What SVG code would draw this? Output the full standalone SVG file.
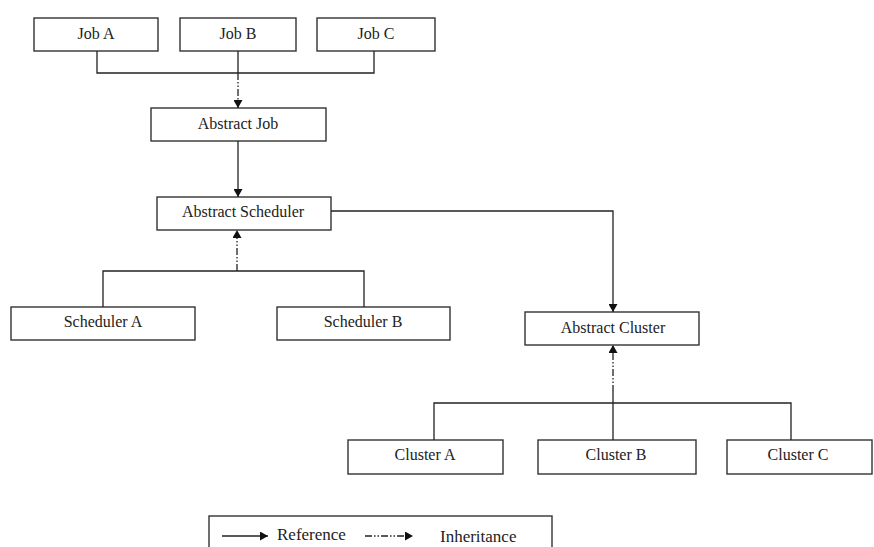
<svg xmlns="http://www.w3.org/2000/svg" width="874" height="547" viewBox="0 0 874 547">
  <style>
    .box { fill: #fff; stroke: #333; stroke-width: 1.4; }
    .lbl { font-family: "Liberation Serif", "Times New Roman", serif; font-size: 16px; fill: #222; text-anchor: middle; }
    .leg { font-family: "Liberation Serif", "Times New Roman", serif; font-size: 17px; fill: #222; }
    .ln { fill: none; stroke: #222; stroke-width: 1.3; }
    .ref { marker-end: url(#arrow); }
    .inh { stroke-dasharray: 7 2 1.5 2 1.5 2; marker-end: url(#arrow); }
  </style>
  <defs>
    <marker id="arrow" markerUnits="userSpaceOnUse" markerWidth="9" markerHeight="9" refX="8" refY="4.5" orient="auto">
      <path d="M0,0 L8,4.5 L0,9 z" fill="#111"/>
    </marker>
  </defs>
  <rect width="874" height="547" fill="#fff"/>

  <!-- Nodes -->
  <g id="job-a"><rect class="box" x="34" y="18" width="124" height="33"/><text class="lbl" x="96" y="39">Job A</text></g>
  <g id="job-b"><rect class="box" x="180" y="18" width="116" height="33"/><text class="lbl" x="238" y="39">Job B</text></g>
  <g id="job-c"><rect class="box" x="317" y="18" width="118" height="33"/><text class="lbl" x="376" y="39">Job C</text></g>
  <g id="abstract-job"><rect class="box" x="151" y="108" width="175" height="33"/><text class="lbl" x="238" y="129">Abstract Job</text></g>
  <g id="abstract-scheduler"><rect class="box" x="157" y="197" width="174" height="33"/><text class="lbl" x="243" y="217">Abstract Scheduler</text></g>
  <g id="scheduler-a"><rect class="box" x="11" y="307" width="184" height="33"/><text class="lbl" x="103" y="327">Scheduler A</text></g>
  <g id="scheduler-b"><rect class="box" x="277" y="307" width="173" height="33"/><text class="lbl" x="363" y="327">Scheduler B</text></g>
  <g id="abstract-cluster"><rect class="box" x="525" y="312" width="174" height="33"/><text class="lbl" x="613" y="333">Abstract Cluster</text></g>
  <g id="cluster-a"><rect class="box" x="348" y="440" width="155" height="34"/><text class="lbl" x="425" y="460">Cluster A</text></g>
  <g id="cluster-b"><rect class="box" x="538" y="440" width="158" height="34"/><text class="lbl" x="616" y="460">Cluster B</text></g>
  <g id="cluster-c"><rect class="box" x="727" y="440" width="145" height="34"/><text class="lbl" x="798" y="460">Cluster C</text></g>

  <!-- Connectors -->
  <g id="connectors">
    <path class="ln" d="M97,51 V73 H374 V51 M238,51 V73"/>
    <path class="ln inh" d="M238,73 V108"/>
    <path class="ln ref" d="M238,141 V197"/>
    <path class="ln ref" d="M331,211 H613 V312"/>
    <path class="ln" d="M103,307 V271 H364 V307"/>
    <path class="ln inh" d="M237,271 V230"/>
    <path class="ln" d="M434,440 V403 H791 V440 M613,403 V440"/>
    <path class="ln" d="M613,403 V392"/>
    <path class="ln inh" d="M613,392 V345"/>
  </g>

  <!-- Legend -->
  <g id="legend">
    <rect class="box" x="209" y="516" width="343" height="45"/>
    <path class="ln ref" d="M222,536 H268"/>
    <text class="leg" x="277" y="540">Reference</text>
    <path class="ln inh" d="M365,536 H413"/>
    <text class="leg" x="440" y="542">Inheritance</text>
  </g>
</svg>
